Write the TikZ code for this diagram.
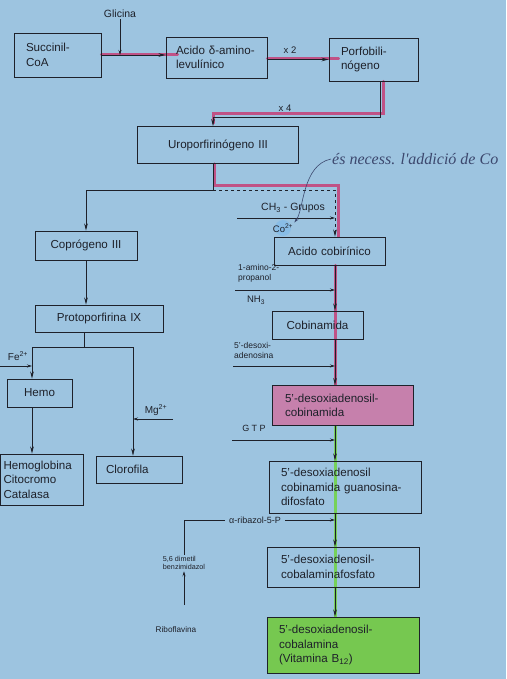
\documentclass[tikz,border=0pt]{standalone}
\usepackage{fontspec}
\setmainfont{Liberation Sans}
\newfontfamily\penfont{Liberation Serif}
\usetikzlibrary{positioning,arrows.meta,calc,backgrounds}
\definecolor{bqPaper}{RGB}{157,196,224}
\definecolor{bqInk}{RGB}{30,33,42}
\definecolor{bqRed}{RGB}{205,45,105}
\definecolor{bqPink}{RGB}{198,128,172}
\definecolor{bqGreen}{RGB}{118,200,80}
\definecolor{bqLime}{RGB}{105,215,45}
\definecolor{bqPen}{RGB}{60,72,110}
\definecolor{bqSmudge}{RGB}{125,185,235}
\tikzset{
    base/.style={font=\fontsize{11.6}{14.5}\selectfont, text=bqInk},
    compound/.style={base, rectangle, draw=bqInk, line width=0.9pt,
                     inner xsep=12pt, inner ysep=2pt, align=left},
    centred/.style={compound, align=center},
    reagent/.style={font=\fontsize{8.5}{10}\selectfont, text=bqInk, inner sep=1pt, align=left},
    flow/.style={-{Stealth[length=7pt,width=3.6pt]}, line width=0.8pt, draw=bqInk},
    feed/.style={-{Stealth[length=5pt,width=3pt]}, line width=0.7pt, draw=bqInk},
    link/.style={line width=0.8pt, draw=bqInk},
    redpen/.style={line width=3pt, draw=bqRed, opacity=0.75, line cap=round},
    greenpen/.style={redpen, draw=bqLime},
    handnote/.style={font=\penfont\itshape\fontsize{16}{18}\selectfont, text=bqPen, inner sep=1pt}
}

\begin{document}
\begin{tikzpicture}[x=1pt, y=-1pt]
  \useasboundingbox (0,0) rectangle (506,679);

  % Porphyrin branch
  \node[compound, text width=63pt, minimum height=44pt] (SCoA) at (57.5,55) {Succinil-\\CoA};
  \node[compound, inner xsep=10pt, text width=81pt, minimum height=41pt] (ALA) at (216.5,57.5) {Acido δ-amino-\\levulínico};
  \node[compound, text width=65pt, minimum height=43pt] (PBG) at (373.5,59.5) {Porfobili-\\nógeno};
  \node[centred, text width=137pt, minimum height=37pt] (URO) at (218,145) {Uroporfirinógeno III};
  \node[centred, text width=78pt, minimum height=29pt] (COPRO) at (86,245.5) {Coprógeno III};
  \node[centred, text width=104pt, minimum height=27pt] (PROTO) at (99,318.5) {Protoporfirina IX};
  \node[centred, inner xsep=6pt, text width=53pt, minimum height=28pt] (HEMO) at (39.5,393) {Hemo};
  \node[compound, inner xsep=3pt, text width=77pt, minimum height=51pt] (HB) at (42,479.5) {Hemoglobina\\Citocromo\\Catalasa};
  \node[compound, inner xsep=10pt, text width=66pt, minimum height=27pt] (CLORO) at (139,469.5) {Clorofila};

  % Cobalamin branch
  \node[centred, text width=87pt, minimum height=28pt] (COBIR) at (329.5,251) {Acido cobirínico};
  \node[centred, text width=67pt, minimum height=28pt] (COBIN) at (317.5,325) {Cobinamida};
  \node[compound, fill=bqPink, inner xsep=13pt, text width=115pt, minimum height=40pt] (DCOBIN) at (342.5,405.5) {5'-desoxiadenosil-\\cobinamida};
  \node[compound, text width=128pt, minimum height=52pt] (GDP) at (345,487) {5'-desoxiadenosil\\cobinamida guanosina-\\difosfato};
  \node[compound, inner xsep=14pt, text width=124pt, minimum height=40pt] (CBLP) at (343,567) {5'-desoxiadenosil-\\cobalaminafosfato};
  \node[compound, fill=bqGreen, text width=128pt, minimum height=56pt] (B12) at (343,645) {5'-desoxiadenosil-\\cobalamina\\(Vitamina B\textsubscript{12})};

  % Reagents
  \node[reagent, font=\fontsize{10.5}{12}\selectfont] (GLI) at (120,14) {Glicina};
  \node[reagent, font=\fontsize{9.5}{11}\selectfont] (XTWO) at (290,50) {x 2};
  \node[reagent, font=\fontsize{9.5}{11}\selectfont] (XFOUR) at (285,108) {x 4};
  \node[reagent, font=\fontsize{10.5}{12}\selectfont] (CH) at (293,208) {CH\textsubscript{3} - Grupos};
  \node[reagent, font=\fontsize{9.5}{11}\selectfont] (CO) at (283,228) {Co\textsuperscript{2+}};
  \node[reagent, anchor=north west] (AMINO) at (237,263) {1-amino-2-\\propanol};
  \node[reagent, font=\fontsize{9.5}{11}\selectfont] (NH) at (256,300) {NH\textsubscript{3}};
  \node[reagent, anchor=north west] (DESOXI) at (233,341) {5'-desoxi-\\adenosina};
  \node[reagent, font=\fontsize{9}{10}\selectfont] (GTP) at (254,428) {G T P};
  \node[reagent, font=\fontsize{9}{10}\selectfont, fill=bqPaper, inner xsep=4pt] (RIBAZOL) at (255,520) {α-ribazol-5-P};
  \node[reagent, font=\fontsize{7.2}{8.8}\selectfont] (DMB) at (184,563) {5,6 dimetil\\benzimidazol};
  \node[reagent, font=\fontsize{8.2}{9}\selectfont] (RIBO) at (176,630) {Riboflavina};
  \node[reagent, font=\fontsize{10}{11}\selectfont] (FE) at (18,356) {Fe\textsuperscript{2+}};
  \node[reagent, font=\fontsize{10}{11}\selectfont] (MG) at (156,410) {Mg\textsuperscript{2+}};
  \node[handnote, anchor=west] (NOTE) at (331,159) {és necess. l'addició de Co};

  % Helper points
  \coordinate (spine) at (335,0);
  \coordinate (gli) at (120,55);
  \coordinate (pbgx) at (380,0);
  \coordinate (xfour) at (213,117);
  \coordinate (split) at (213,190);
  \coordinate (fork) at (84,347);
  \coordinate (hemx) at (32,347);
  \coordinate (clox) at (133,347);
  \coordinate (fein) at (0,366);
  \coordinate (mgin) at (173,419);
  \coordinate (chin) at (237,218);
  \coordinate (amin) at (235,290);
  \coordinate (dain) at (233,366);
  \coordinate (gtpin) at (232,440);
  \coordinate (riboup) at (184,605);

  % Connectors
  \draw[flow] (SCoA) -- (SCoA -| ALA.west);
  \draw[feed] (GLI) -- (gli);
  \draw[flow] (ALA.east |- PBG) -- (PBG.west);
  \draw[flow] (PBG.south -| pbgx) |- (xfour) -- (URO.north -| xfour);
  \draw[link] (URO.south -| split) -- (split);
  \draw[flow] (split) -| (COPRO.north);
  \draw[flow, dashed] (split) -| (COBIR.north -| spine);
  \draw[flow] (COPRO.south) -- (PROTO.north -| COPRO.south);
  \draw[link] (PROTO.south -| fork) -- (fork);
  \draw[flow] (fork) -| (HEMO.north -| hemx);
  \draw[flow, line width=0.5pt] (fork) -| (CLORO.north -| clox);
  \draw[flow] (HEMO.south -| hemx) -- (HB.north -| hemx);
  \draw[feed] (fein) -- (fein -| hemx);
  \draw[feed] (mgin) -- (mgin -| clox);
  \foreach \a/\b in {COBIR/COBIN, COBIN/DCOBIN, DCOBIN/GDP, GDP/CBLP, CBLP/B12}
    \draw[flow] (\a.south -| spine) -- (\b.north -| spine);
  \draw[feed] (chin) -- (chin -| spine);
  \draw[feed] (amin) -- (amin -| spine);
  \draw[feed] (dain) -- (dain -| spine);
  \draw[feed] (gtpin) -- (gtpin -| spine);
  \draw[link, line width=0.6pt] (DMB.north) |- (RIBAZOL.west);
  \draw[feed] (RIBAZOL.east) -- (RIBAZOL.east -| spine);
  \draw[feed] (riboup) -- (DMB.south -| riboup);

  % Handwritten remark
  \draw[-{Stealth[length=5pt,width=3pt]}, bqPen, line width=0.6pt]
    (NOTE.west) .. controls (302,165) and (304,210) .. (CO.north east);

  % Paper and marker pens
  \begin{scope}[on background layer]
    \fill[bqPaper] (0,0) rectangle (506,679);
    \fill[bqSmudge, opacity=0.6] (CO) circle (8pt);
    \draw[redpen] (SCoA.east) -- ([xshift=12pt]ALA.west |- SCoA);
    \draw[redpen] ([yshift=1pt]ALA.east |- PBG) -- ([xshift=10pt,yshift=1pt]PBG.west);
    \draw[redpen] ([xshift=3pt]PBG.south -| pbgx) |- ([yshift=3pt]xfour) -- ([yshift=3pt]URO.north -| xfour);
    \draw[redpen] ([xshift=1pt]URO.south -| split) -- ([xshift=1pt,yshift=5pt]split) -| ([xshift=3pt]COBIR.north -| spine);
    \draw[redpen] (COBIR.south -| spine) -- (DCOBIN.north -| spine);
    \draw[greenpen] (DCOBIN.south -| spine) -- (B12.north -| spine);
  \end{scope}
\end{tikzpicture}
\end{document}
